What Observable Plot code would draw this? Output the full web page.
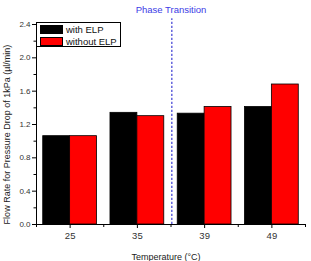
<!DOCTYPE html>
<html>
<head>
<meta charset="utf-8">
<script src="https://cdn.jsdelivr.net/npm/d3@7"></script>
<script src="https://cdn.jsdelivr.net/npm/@observablehq/plot@0.6"></script>
<style>
  html, body { margin: 0; padding: 0; background: #fff; }
  #chart { position: relative; width: 311px; height: 261px; font-family: "Liberation Sans", Arial, sans-serif; }
  .legend { position: absolute; left: 36px; top: 22px; width: 83px; height: 23px; border: 1px solid #000; background: #fff; box-sizing: content-box; }
  .legend .row { position: absolute; left: 3px; height: 10px; display: flex; align-items: center; font-size: 9.5px; color: #111; white-space: nowrap; }
  .legend .sw { width: 21px; height: 7px; border: 0.8px solid #000; margin-right: 3px; }
</style>
</head>
<body>
<div id="chart"></div>
<script>
// Flow rate at a 1 kPa pressure drop, with and without ELP, per temperature
const temperatures = ["25", "35", "39", "49"];
const withELP = [1.06, 1.34, 1.33, 1.41];
const withoutELP = [1.06, 1.30, 1.41, 1.68];
const seriesNames = ["with ELP", "without ELP"];
const seriesColors = ["#000000", "#ff0000"];
const yTicks = [0, 0.4, 0.8, 1.2, 1.6, 2.0, 2.4];
const yMinorTicks = [0.2, 0.6, 1.0, 1.4, 1.8, 2.2];
const transitionAt = 1.5;      // between 35 °C and 39 °C
const transitionTop = 2.47;
const transitionLabel = "Phase Transition";
const xTitle = "Temperature (°C)";
const yTitle = "Flow Rate for Pressure Drop of 1kPa (µl/min)";

const barWidth = 0.4;
const rows = temperatures.flatMap((t, i) => [
  {t, i, s: 0, v: withELP[i]},
  {t, i, s: 1, v: withoutELP[i]}
]);
const xMajor = temperatures.map((_, i) => i);
const xMinor = d3.range(-0.5, temperatures.length, 1);

const font = "Liberation Sans, Arial, sans-serif";

const chart = Plot.plot({
  width: 311,
  height: 261,
  marginTop: 24,
  marginBottom: 37,
  marginLeft: 36,
  marginRight: 6,
  style: {fontFamily: font, background: "#fff", overflow: "visible"},
  x: {type: "linear", domain: [-0.5, temperatures.length - 0.5], axis: null},
  y: {domain: [0, 2.4], axis: null},
  marks: [
    Plot.rectY(rows, {
      x1: d => d.i - barWidth + barWidth * d.s,
      x2: d => d.i + barWidth * d.s,
      y: "v",
      fill: d => seriesColors[d.s],
      stroke: "#000",
      strokeWidth: 0.8
    }),
    Plot.ruleX([transitionAt], {y1: 0, y2: transitionTop, stroke: "#6464dc", strokeWidth: 1.5, strokeDasharray: "2.2,1.8", dx: 0.8}),
    Plot.text([transitionLabel], {x: transitionAt, y: 2.4, dy: -15, fill: "#3c3ce6", fontSize: 9.5}),
    // axis lines
    Plot.ruleY([0], {stroke: "#000", strokeWidth: 1}),
    Plot.ruleX([-0.5], {y1: 0, y2: 2.4, stroke: "#000", strokeWidth: 1}),
    // x axis ticks
    Plot.axisX(xMajor, {tickFormat: i => temperatures[i], tickSize: 4, tickPadding: 4, fontSize: 9.5, fill: "#333", label: null}),
    Plot.axisX(xMinor, {tickFormat: () => "", tickSize: 3, label: null}),
    // y axis ticks
    Plot.axisY(yTicks, {tickFormat: d3.format(".1f"), tickSize: 4, tickPadding: 2, fontSize: 8, fill: "#333", label: null}),
    Plot.axisY(yMinorTicks, {tickFormat: () => "", tickSize: 2.5, label: null}),
    // axis titles
    Plot.text([yTitle], {frameAnchor: "left", textAnchor: "middle", lineAnchor: "middle", rotate: -90, dx: -29, dy: 10, fontSize: 9, fill: "#222"}),
    Plot.text([xTitle], {frameAnchor: "bottom", textAnchor: "middle", dy: 35, dx: -5, fontSize: 9, fill: "#222"})
  ]
});

const root = document.getElementById("chart");
root.appendChild(chart);

// legend drawn over the top-left corner of the plot area
const legend = document.createElement("div");
legend.className = "legend";
seriesNames.forEach((name, k) => {
  const row = document.createElement("div");
  row.className = "row";
  row.style.top = (1 + k * 12) + "px";
  const sw = document.createElement("span");
  sw.className = "sw";
  sw.style.background = seriesColors[k];
  const label = document.createElement("span");
  label.textContent = name;
  row.appendChild(sw);
  row.appendChild(label);
  legend.appendChild(row);
});
root.appendChild(legend);
</script>
</body>
</html>
